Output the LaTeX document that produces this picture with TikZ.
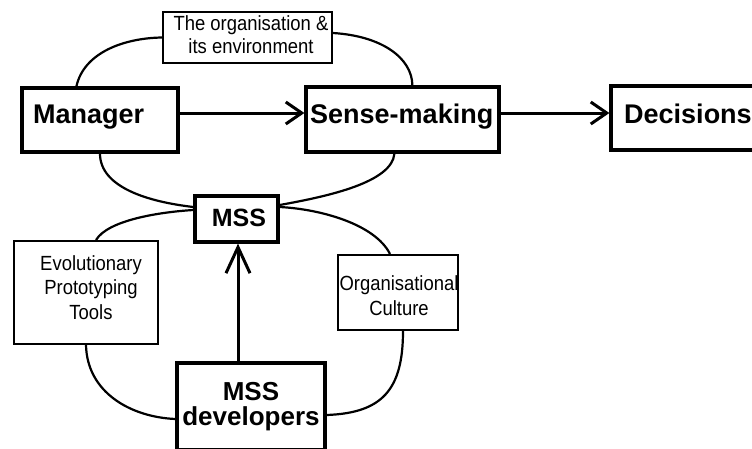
\documentclass[tikz,border=0pt]{standalone}
\usepackage{fontspec}
\setmainfont{Liberation Sans}
\newfontfamily\narrowfont[FakeStretch=0.9]{Liberation Sans}
\usetikzlibrary{arrows.meta}
\begin{document}
\begin{tikzpicture}[x=1pt,y=-1pt,
  bigbox/.style={draw,line width=3.2pt,inner sep=0pt},
  smallbox/.style={draw,line width=2pt,inner sep=0pt},
  bigtxt/.style={font=\fontsize{27}{25}\selectfont\bfseries,inner sep=0pt,anchor=base west},
  devtxt/.style={font=\fontsize{26}{25}\selectfont\bfseries,inner sep=0pt,anchor=base,align=center},
  smalltxt/.style={font=\narrowfont\fontsize{20.5}{24.5}\selectfont,inner sep=0pt,anchor=base,align=center},
  loopline/.style={line width=2.2pt},
  flow/.style={line width=3pt,-{Straight Barb[length=16pt,width=22pt,line width=3pt]}},
  upflow/.style={line width=3pt,-{Straight Barb[length=26pt,width=24pt,line width=3pt]}}]
\useasboundingbox (0,0) rectangle (752,448);
% boxes
\node[smallbox,minimum width=169pt,minimum height=51pt] (org) at (247.5,37.5) {};
\node[smalltxt,font=\narrowfont\fontsize{20.5}{22.5}\selectfont] (orgt) at (251,53) {The organisation \&\\its environment};
\node[bigbox,minimum width=156pt,minimum height=64pt] (man) at (100,120) {};
\node[bigtxt] (mant) at (33,123) {Manager};
\node[bigbox,minimum width=193pt,minimum height=65pt] (sense) at (402.5,119.5) {};
\node[bigtxt] (senset) at (310,123) {Sense-making};
\node[bigbox,minimum width=150pt,minimum height=64pt] (dec) at (686,118) {};
\node[bigtxt] (dect) at (624,123) {Decisions};
\node[bigbox,minimum width=83pt,minimum height=46pt] (mss) at (236.5,219) {};
\node[bigtxt,anchor=base,font=\fontsize{25}{25}\selectfont\bfseries] (msst) at (239,226) {MSS};
\node[smallbox,minimum width=144pt,minimum height=103pt] (evol) at (86,292.5) {};
\node[smalltxt] (evolt) at (91,319) {Evolutionary\\Prototyping\\Tools};
\node[smallbox,minimum width=120pt,minimum height=75pt] (cult) at (398,292.5) {};
\node[smalltxt] (cultt) at (399,315) {Organisational\\Culture};
\node[bigbox,minimum width=148pt,minimum height=87pt] (dev) at (251,406.5) {};
\node[devtxt] (devt) at (251,425) {MSS\\developers};
% loops
\draw[loopline] ([xshift=56pt]man.north west) .. controls (84,52) and (125,38) .. (org.west);
\draw[loopline] ([yshift=4.5pt]org.east) .. controls (382,36) and (412,58) .. ([xshift=108pt]sense.north west);
\draw[loopline] (man.south) .. controls (100,188) and (150,202) .. ([yshift=12pt]mss.west);
\draw[loopline] ([yshift=14pt]mss.east) .. controls (330,196) and (392,182) .. ([xshift=90pt]sense.south west);
\draw[loopline] ([yshift=9pt]mss.west) .. controls (160,212) and (108,220) .. ([xshift=83pt]evol.north west);
\draw[loopline] ([xshift=73pt]evol.south west) .. controls (87,392) and (130,417) .. ([yshift=-12.5pt]dev.west);
\draw[loopline] ([yshift=-8.5pt]dev.east) .. controls (382,413) and (403,390) .. ([xshift=5pt]cult.south);
\draw[loopline] ([xshift=-8pt]cult.north) .. controls (375,224) and (320,209) .. ([yshift=12pt]mss.east);
% arrows
\coordinate (ay) at (0,113);
\draw[flow] (man.east |- ay) -- (sense.west |- ay);
\draw[flow] (sense.east |- ay) -- (dec.west |- ay);
\draw[upflow] ([xshift=-13pt]dev.north) coordinate (vs) -- (vs |- mss.south);
\end{tikzpicture}
\end{document}
